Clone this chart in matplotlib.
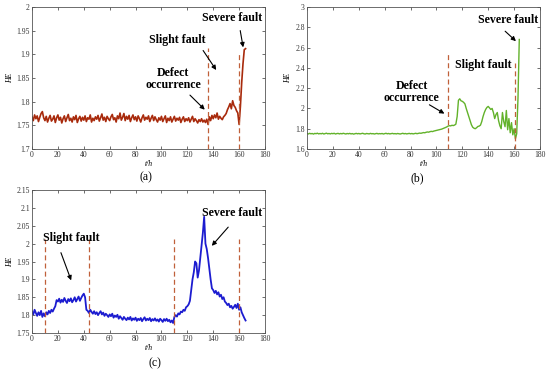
import numpy as np
import matplotlib
matplotlib.use("Agg")
from matplotlib import pyplot as plt

plt.rcParams['font.family'] = ['Liberation Serif', 'DejaVu Serif']
plt.rcParams['xtick.direction'] = 'in'
plt.rcParams['ytick.direction'] = 'in'
plt.rcParams['xtick.top'] = True
plt.rcParams['ytick.right'] = True

# HE values sampled every hour (panel a)
he_a = [1.768, 1.760, 1.772, 1.764, 1.770, 1.758, 1.767, 1.775, 1.779, 1.766,
        1.760, 1.769, 1.757, 1.765, 1.771, 1.759, 1.763, 1.770, 1.756, 1.766,
        1.772, 1.761, 1.767, 1.755, 1.764, 1.770, 1.758, 1.766, 1.773, 1.760,
        1.765, 1.757, 1.768, 1.762, 1.771, 1.756, 1.764, 1.769, 1.759, 1.767,
        1.761, 1.770, 1.758, 1.766, 1.763, 1.772, 1.757, 1.765, 1.760, 1.768,
        1.763, 1.771, 1.759, 1.766, 1.774, 1.761, 1.767, 1.758, 1.769, 1.764,
        1.760, 1.768, 1.773, 1.762, 1.766, 1.757, 1.770, 1.764, 1.776, 1.761,
        1.767, 1.775, 1.760, 1.769, 1.763, 1.771, 1.758, 1.766, 1.772, 1.762,
        1.768, 1.759, 1.770, 1.764, 1.757, 1.766, 1.772, 1.761, 1.767, 1.763,
        1.770, 1.758, 1.765, 1.771, 1.760, 1.768, 1.762, 1.757, 1.766, 1.761,
        1.769, 1.758, 1.764, 1.770, 1.756, 1.765, 1.760, 1.768, 1.757, 1.763,
        1.769, 1.759, 1.765, 1.761, 1.767, 1.756, 1.763, 1.768, 1.758, 1.764,
        1.760, 1.766, 1.757, 1.763, 1.769, 1.758, 1.764, 1.760, 1.755, 1.762,
        1.758, 1.764, 1.757, 1.761, 1.756, 1.763, 1.752, 1.768, 1.760, 1.771,
        1.764, 1.772, 1.766, 1.776, 1.763, 1.769, 1.765, 1.762, 1.768, 1.771,
        1.775, 1.783, 1.789, 1.796, 1.785, 1.802, 1.792, 1.788, 1.781, 1.776,
        1.752, 1.790, 1.840, 1.880, 1.910, 1.912]

# panel b
he_b = [1.752, 1.748, 1.755, 1.750, 1.753, 1.747, 1.754, 1.751, 1.756, 1.749,
        1.753, 1.750, 1.755, 1.748, 1.752, 1.756, 1.750, 1.753, 1.749, 1.754,
        1.751, 1.755, 1.748, 1.752, 1.754, 1.749, 1.753, 1.750, 1.755, 1.751,
        1.748, 1.753, 1.750, 1.754, 1.749, 1.752, 1.747, 1.751, 1.754, 1.750,
        1.753, 1.749, 1.752, 1.755, 1.750, 1.748, 1.753, 1.751, 1.749, 1.754,
        1.750, 1.752, 1.748, 1.751, 1.754, 1.749, 1.752, 1.750, 1.753, 1.748,
        1.752, 1.755, 1.750, 1.753, 1.749, 1.751, 1.754, 1.750, 1.752, 1.749,
        1.753, 1.750, 1.748, 1.752, 1.755, 1.750, 1.753, 1.749, 1.751, 1.754,
        1.750, 1.753, 1.749, 1.752, 1.755, 1.751, 1.754, 1.757, 1.755, 1.759,
        1.762, 1.760, 1.765, 1.768, 1.766, 1.771, 1.774, 1.772, 1.777, 1.780,
        1.782, 1.786, 1.789, 1.793, 1.796, 1.801, 1.805, 1.812, 1.818, 1.826,
        1.830, 1.828, 1.834, 1.831, 1.836, 1.845, 1.920, 2.080, 2.095, 2.075,
        2.070, 2.060, 2.045, 2.000, 1.960, 1.920, 1.880, 1.840, 1.815, 1.805,
        1.800, 1.810, 1.822, 1.826, 1.835, 1.870, 1.920, 1.960, 1.990, 2.010,
        2.020, 2.005, 1.990, 2.000, 1.960, 1.900, 1.940, 1.960, 1.880, 1.830,
        1.800, 1.960, 1.870, 1.820, 1.980, 1.790, 1.900, 1.760, 1.860, 1.740,
        1.800, 1.700, 1.750, 2.100, 2.680]

# panel c
he_c = [1.810, 1.802, 1.815, 1.806, 1.798, 1.808, 1.800, 1.812, 1.795, 1.805,
        1.797, 1.808, 1.802, 1.812, 1.806, 1.815, 1.810, 1.818, 1.825, 1.842,
        1.838, 1.846, 1.835, 1.843, 1.837, 1.848, 1.840, 1.834, 1.845, 1.839,
        1.847, 1.836, 1.842, 1.850, 1.838, 1.845, 1.852, 1.840, 1.848, 1.855,
        1.860, 1.850, 1.815, 1.812, 1.806, 1.815, 1.809, 1.804, 1.811, 1.803,
        1.808, 1.800, 1.806, 1.811, 1.802, 1.807, 1.798, 1.804, 1.800, 1.795,
        1.802, 1.797, 1.804, 1.793, 1.799, 1.795, 1.801, 1.790, 1.797, 1.792,
        1.787, 1.795, 1.790, 1.786, 1.793, 1.788, 1.795, 1.785, 1.791, 1.787,
        1.793, 1.784, 1.790, 1.786, 1.792, 1.783, 1.789, 1.794, 1.785, 1.790,
        1.786, 1.792, 1.783, 1.789, 1.785, 1.791, 1.784, 1.788, 1.782, 1.790,
        1.786, 1.781, 1.789, 1.784, 1.790, 1.783, 1.787, 1.780, 1.785, 1.778,
        1.795, 1.800, 1.796, 1.805, 1.802, 1.810, 1.808, 1.815, 1.812, 1.822,
        1.825, 1.830, 1.840, 1.870, 1.900, 1.920, 1.950, 1.945, 1.905, 1.925,
        1.960, 1.995, 2.030, 2.075, 2.000, 1.985, 1.960, 1.930, 1.900, 1.875,
        1.870, 1.862, 1.868, 1.858, 1.864, 1.852, 1.857, 1.845, 1.850, 1.838,
        1.834, 1.828, 1.832, 1.822, 1.826, 1.818, 1.823, 1.829, 1.820, 1.832,
        1.815, 1.822, 1.808, 1.800, 1.792, 1.785]

# stage boundaries (hours) and how high the dashed markers reach
marks_a = [(136, 1.913), (160, 1.903)]
marks_b = [(109, 2.556), (161, 2.45)]
marks_c = [(10, 2.012), (44, 2.012), (110, 2.012), (160, 2.012)]

dash_col = '#c0603a'
tick_fs = 5.5
note_fs = 8.6

fig = plt.figure(figsize=(5.5, 3.73), dpi=100)


def panel(rect, he, color, lw, ylim, yticks, ytlabels, marks, label, label_xy):
    ax = fig.add_axes(rect)
    t = np.arange(len(he))
    ax.plot(t, he, color=color, lw=lw)
    for x, top in marks:
        ax.plot([x, x], [ylim[0], top], color=dash_col, lw=0.9,
                linestyle=(0, (4, 2.5)))
    ax.set_xlim(0, 180)
    ax.set_ylim(*ylim)
    ax.set_xticks(np.arange(0, 181, 20))
    ax.set_yticks(yticks)
    ax.set_yticklabels(ytlabels)
    ax.tick_params(labelsize=tick_fs, length=2, width=0.5, pad=1.5, colors='#333333')
    for s in ax.spines.values():
        s.set_linewidth(0.6)
        s.set_color('#555555')
    ax.set_xlabel('t/h', fontsize=5.5, style='italic', labelpad=1)
    ax.set_ylabel('HE', fontsize=5.5, style='italic', labelpad=2)
    fig.text(label_xy[0], label_xy[1], label, fontsize=8.5, ha='center', va='center')
    return ax


def note(ax, text, xy, xytext=None, tip=None):
    ax.text(xy[0], xy[1], text, fontsize=note_fs, fontweight='bold',
            ha='center', va='center', linespacing=1.0)
    if tip is not None:
        ax.annotate('', xy=tip, xytext=xytext,
                    arrowprops=dict(arrowstyle='-|>', color='black', lw=0.8,
                                    mutation_scale=6.5))


ax_a = panel([0.0582, 0.6005, 0.4236, 0.3807], he_a, '#a82a0c', 1.2, (1.7, 2.0),
             np.arange(1.7, 2.001, 0.05),
             ['1.7', '1.75', '1.8', '1.85', '1.9', '1.95', '2'],
             marks_a, '(a)', (146 / 550, 1 - 177 / 373))
note(ax_a, 'Severe fault', (154.5, 1.977), (160.5, 1.956), (163.5, 1.909))
note(ax_a, 'Slight fault', (112, 1.930), (131, 1.913), (143.5, 1.862))
note(ax_a, 'Defect\noccurrence', (109, 1.848), (120.5, 1.818), (135, 1.779))

ax_b = panel([0.5582, 0.6005, 0.4236, 0.3807], he_b, '#62b22a', 1.0, (1.6, 3.0),
             np.arange(1.6, 3.001, 0.2),
             ['1.6', '1.8', '2', '2.2', '2.4', '2.6', '2.8', '3'],
             marks_b, '(b)', (417 / 550, 1 - 178 / 373))
note(ax_b, 'Severe fault', (155, 2.872), (151.5, 2.78), (163, 2.645))
note(ax_b, 'Slight fault', (136.5, 2.428))
note(ax_b, 'Defect\noccurrence', (81, 2.162), (92.7, 2.05), (108, 1.935))

ax_c = panel([0.0582, 0.1072, 0.4236, 0.3834], he_c, '#1c1cd0', 1.3, (1.75, 2.15),
             np.arange(1.75, 2.151, 0.05),
             ['1.75', '1.8', '1.85', '1.9', '1.95', '2', '2.05', '2.1', '2.15'],
             marks_c, '(c)', (155 / 550, 1 - 363 / 373))
note(ax_c, 'Slight fault', (30, 2.016), (21.6, 1.982), (31, 1.89))
note(ax_c, 'Severe fault', (154.5, 2.086), (153, 2.052), (137.5, 1.988))

fig.savefig('out.png', dpi=100)
